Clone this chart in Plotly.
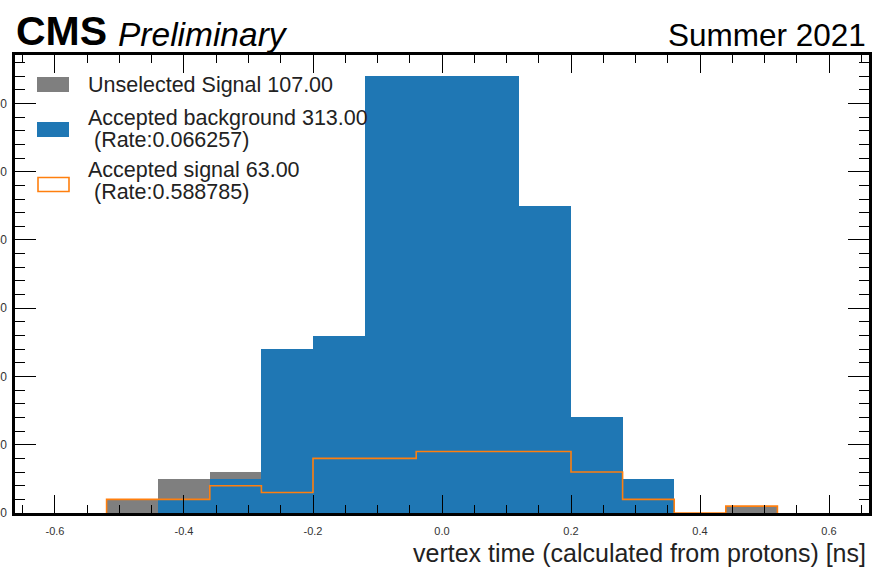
import plotly.graph_objects as go

# ---- data ----
bin_edges = [-0.52, -0.44, -0.36, -0.28, -0.20, -0.12, -0.04, 0.04, 0.12, 0.20, 0.28, 0.36, 0.44, 0.52]
unselected_signal = [2, 5, 6, 6, 13, 14, 16, 15, 14, 11, 4, 0, 1]
accepted_background = [0, 2, 5, 24, 26, 64, 64, 64, 45, 14, 5, 0, 0]
accepted_signal = [2, 2, 4, 3, 8, 8, 9, 9, 9, 6, 2, 0, 1]
x_ticks = [-0.6, -0.4, -0.2, 0.0, 0.2, 0.4, 0.6]
x_tick_labels = ["-0.6", "-0.4", "-0.2", "0.0", "0.2", "0.4", "0.6"]
y_ticks = [0, 10, 20, 30, 40, 50, 60]
legend_labels = ["Unselected Signal 107.00",
                 "Accepted background 313.00",
                 " (Rate:0.066257)",
                 "Accepted signal 63.00",
                 " (Rate:0.588785)"]

GRAY = "#7f7f7f"
BLUE = "#1f77b4"
ORANGE = "#ff7f0e"
FONT = "Liberation Sans"

W, H = 874, 569
L, R, T, B = 15, 5, 55, 56
PW, PH = W - L - R, H - T - B

def px(x):
    return (x - L) / PW

def py(y):
    return (H - B - y) / PH

centers = [(a + b) / 2 for a, b in zip(bin_edges[:-1], bin_edges[1:])]
widths = [b - a for a, b in zip(bin_edges[:-1], bin_edges[1:])]

fig = go.Figure()
fig.add_trace(go.Bar(x=centers, y=unselected_signal, width=widths,
                     marker=dict(color=GRAY, line=dict(width=0)), showlegend=False))
fig.add_trace(go.Bar(x=centers, y=accepted_background, width=widths,
                     marker=dict(color=BLUE, line=dict(width=0)), showlegend=False))

step_x = [bin_edges[0]] + bin_edges
step_y = [0] + accepted_signal + [0]
fig.add_trace(go.Scatter(x=step_x, y=step_y, mode="lines", line_shape="hv",
                         line=dict(color=ORANGE, width=1.6), showlegend=False))

axis_common = dict(showline=True, linecolor="black", linewidth=2.5, mirror="ticks",
                   showgrid=False, zeroline=False, ticks="inside",
                   tickcolor="black", tickwidth=1.2)

fig.update_xaxes(range=[-0.662, 0.662], tickvals=x_ticks, ticktext=x_tick_labels,
                 ticklen=18, ticklabelstandoff=6,
                 tickfont=dict(family=FONT, size=11, color="#333333"),
                 minor=dict(dtick=0.05, tick0=0, ticklen=8, ticks="inside",
                            tickcolor="black", tickwidth=1.2),
                 **axis_common)
fig.update_yaxes(range=[0, 67.1], tickvals=y_ticks, ticklen=21, automargin=False,
                 ticklabelstandoff=3,
                 tickfont=dict(family=FONT, size=12, color="#333333"),
                 minor=dict(dtick=2, tick0=0, ticklen=10, ticks="inside",
                            tickcolor="black", tickwidth=1.2),
                 **axis_common)

annotations = [
    dict(text="<b>CMS</b>", x=px(14), y=py(31), xanchor="left", yanchor="middle",
         font=dict(family=FONT, size=41, color="black")),
    dict(text="<i>Preliminary</i>", x=px(116), y=py(35), xanchor="left", yanchor="middle",
         font=dict(family=FONT, size=33.5, color="black")),
    dict(text="Summer 2021", x=px(868), y=py(35), xanchor="right", yanchor="middle",
         font=dict(family=FONT, size=31.5, color="black")),
    dict(text="vertex time (calculated from protons) [ns]", x=px(868), y=py(553),
         xanchor="right", yanchor="middle",
         font=dict(family=FONT, size=25, color="#222222")),
]
legend_y = [85, 118, 140, 170, 192]
for lab, yy in zip(legend_labels, legend_y):
    annotations.append(dict(text=lab.replace(" (", "&nbsp;("), x=px(86), y=py(yy),
                            xanchor="left", yanchor="middle",
                            font=dict(family=FONT, size=21.5, color="#222222")))
for a in annotations:
    a.update(xref="paper", yref="paper", showarrow=False)

shapes = [
    dict(type="rect", x0=px(37), x1=px(69), y0=py(92), y1=py(77),
         fillcolor=GRAY, line=dict(width=0)),
    dict(type="rect", x0=px(37), x1=px(69), y0=py(137), y1=py(122),
         fillcolor=BLUE, line=dict(width=0)),
    dict(type="rect", x0=px(38), x1=px(69), y0=py(191.5), y1=py(177.5),
         fillcolor="white", line=dict(color=ORANGE, width=1.6)),
]
for s in shapes:
    s.update(xref="paper", yref="paper")

fig.update_layout(width=W, height=H, margin=dict(l=L, r=R, t=T, b=B, autoexpand=False),
                  plot_bgcolor="white", paper_bgcolor="white", barmode="overlay",
                  bargap=0, annotations=annotations, shapes=shapes, showlegend=False)

fig.write_html("out.html")
